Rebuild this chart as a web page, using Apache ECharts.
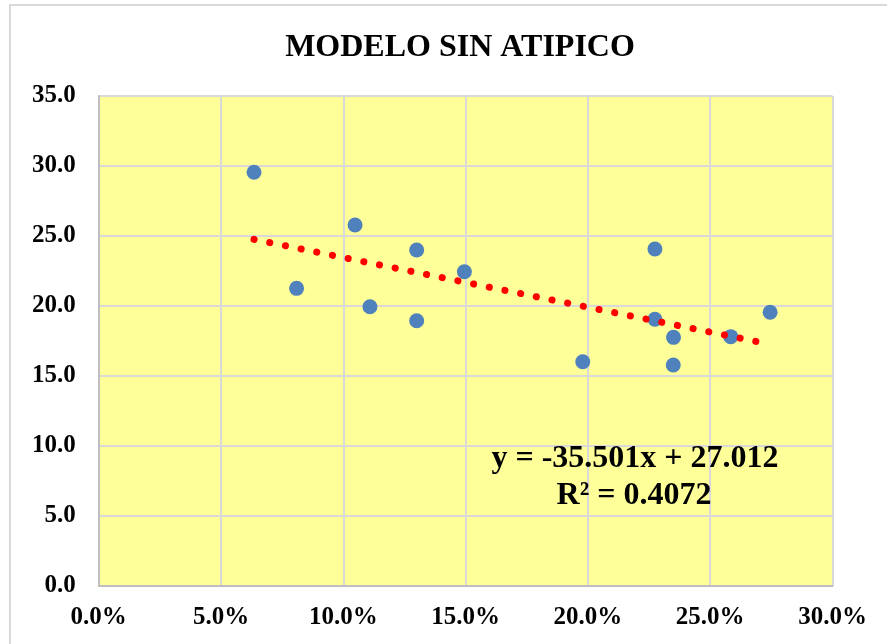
<!DOCTYPE html>
<html>
<head>
<meta charset="utf-8">
<script src="https://cdn.jsdelivr.net/npm/echarts@6/dist/echarts.min.js"></script>
<style>
  html, body { margin: 0; padding: 0; background: #fff; }
  #chart { width: 887px; height: 644px; }
</style>
</head>
<body>
<div id="chart"></div>
<script>
// datos
const xPct = [0.0635, 0.1048, 0.1300, 0.1495, 0.0809, 0.1109, 0.1300, 0.2274, 0.2274, 0.2350, 0.2349, 0.1979, 0.2584, 0.2745]
const yVal = [29.55, 25.79, 24.00, 22.45, 21.26, 19.95, 18.95, 24.07, 19.05, 17.76, 15.79, 16.02, 17.81, 19.55]
// linea de tendencia (extremos)
const trendX = [0.0635, 0.2745]
const trendY = [24.758, 17.267]
const titleText = 'MODELO SIN ATIPICO'
const eqText = 'y = -35.501x + 27.012'
const r2Text = 'R² = 0.4072'

const font = '"Liberation Serif", "Times New Roman", serif'
const chart = echarts.init(document.getElementById('chart'))

const points = xPct.map((x, i) => [x, yVal[i]])
const trend = trendX.map((x, i) => [x, trendY[i]])

chart.setOption({
  animation: false,
  title: {
    text: titleText,
    left: 455,
    top: 27,
    textAlign: 'center',
    textStyle: { fontFamily: font, fontWeight: 'bold', fontSize: 32, color: '#000' }
  },
  grid: {
    left: 98.7,
    right: 54.5,
    top: 96,
    bottom: 58,
    show: true,
    backgroundColor: '#FFFF99',
    borderWidth: 0
  },
  xAxis: {
    type: 'value',
    min: 0,
    max: 0.3,
    interval: 0.05,
    axisLine: { show: true, lineStyle: { color: '#BFBFBF', width: 2 } },
    axisTick: { show: false },
    splitLine: { show: true, lineStyle: { color: '#D9D9D9', width: 2 } },
    axisLabel: {
      margin: 19,
      fontFamily: font, fontWeight: 'bold', fontSize: 25, color: '#000',
      formatter: v => (v * 100).toFixed(1) + '%'
    }
  },
  yAxis: {
    type: 'value',
    min: 0,
    max: 35,
    interval: 5,
    axisLine: { show: true, lineStyle: { color: '#BFBFBF', width: 2 } },
    axisTick: { show: false },
    splitLine: { show: true, lineStyle: { color: '#D9D9D9', width: 2 } },
    axisLabel: {
      margin: 23,
      fontFamily: font, fontWeight: 'bold', fontSize: 25, color: '#000',
      formatter: v => v.toFixed(1)
    }
  },
  series: [
    {
      type: 'scatter',
      data: points,
      symbolSize: 15,
      itemStyle: { color: '#4F81BD', opacity: 1 },
      z: 2
    },
    {
      type: 'line',
      data: trend,
      symbol: 'none',
      lineStyle: { color: '#FF0000', width: 7, type: [0.1, 15.9], cap: 'round' },
      z: 3
    }
  ],
  graphic: [
    {
      type: 'rect',
      shape: { x: 10, y: 5, width: 900, height: 700 },
      style: { fill: 'none', stroke: '#D9D9D9', lineWidth: 2 },
      silent: true
    },
    {
      type: 'text',
      x: 635, y: 475,
      z: 10,
      style: {
        text: eqText, fontFamily: font, fontWeight: 'bold', fontSize: 32,
        fill: '#000', textAlign: 'center', textVerticalAlign: 'bottom'
      }
    },
    {
      type: 'text',
      x: 634, y: 512,
      z: 10,
      style: {
        text: r2Text, fontFamily: font, fontWeight: 'bold', fontSize: 32,
        fill: '#000', textAlign: 'center', textVerticalAlign: 'bottom'
      }
    }
  ]
})
</script>
</body>
</html>
